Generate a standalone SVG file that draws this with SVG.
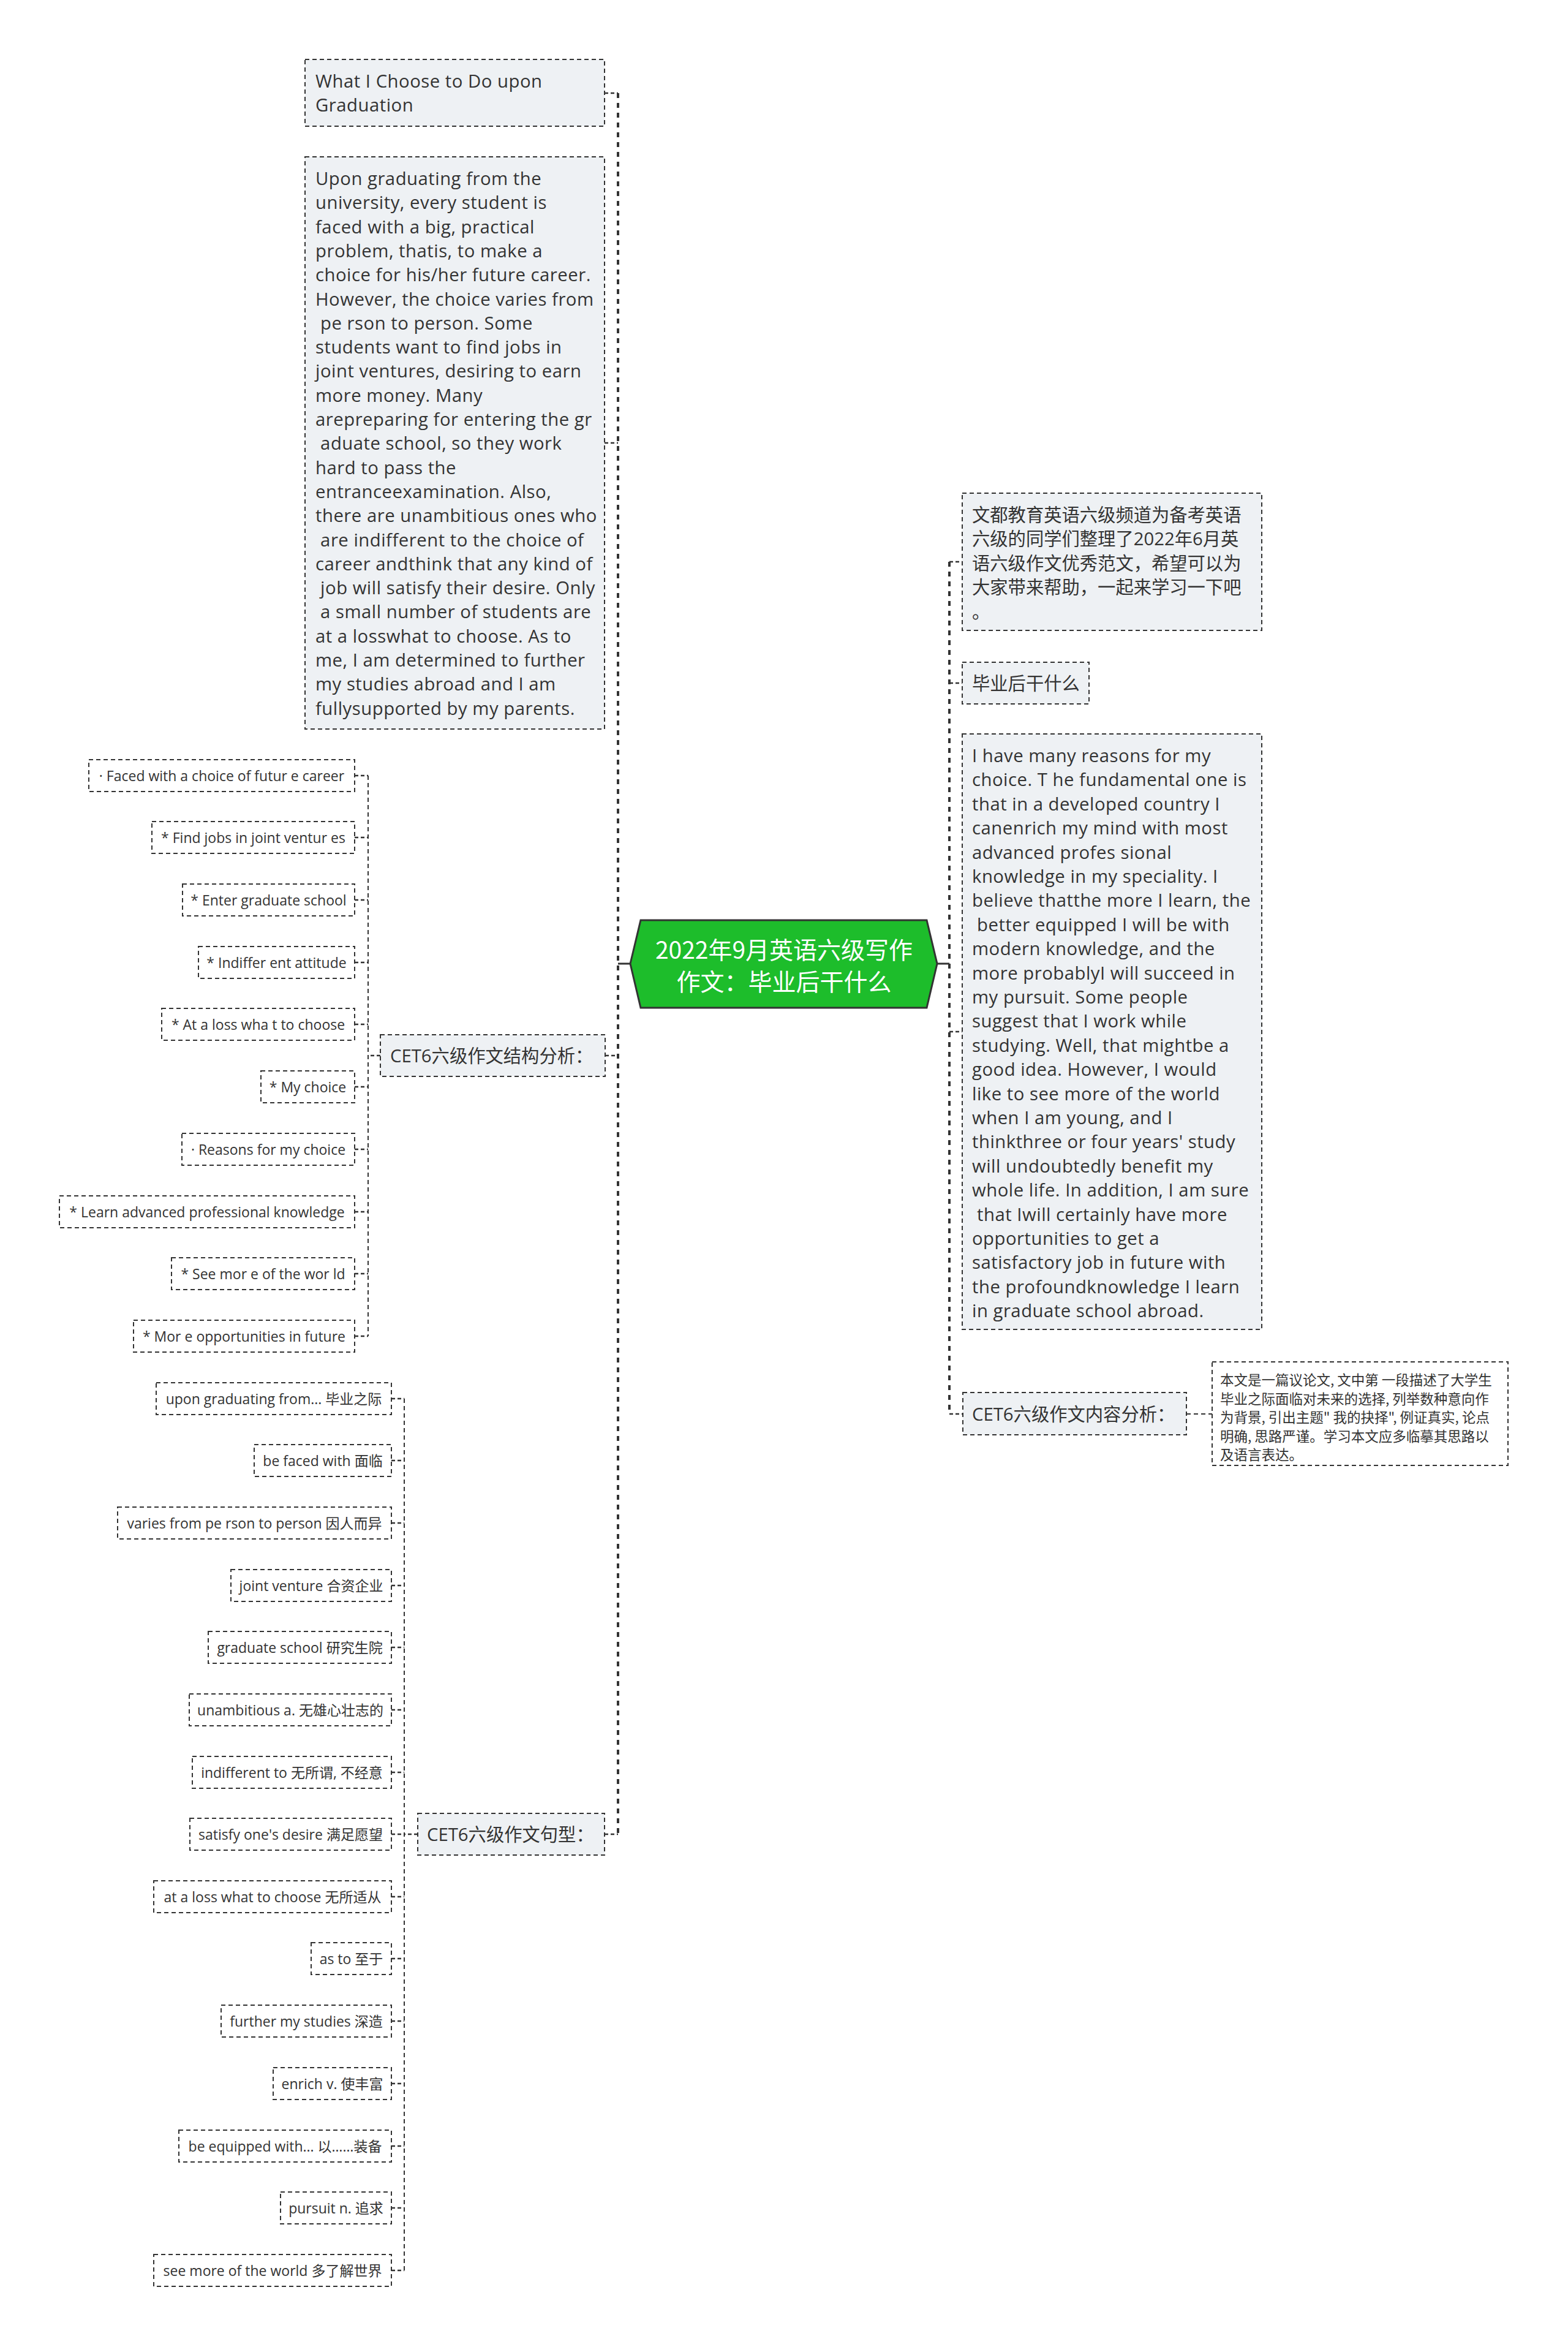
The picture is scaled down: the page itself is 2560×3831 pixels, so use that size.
<svg xmlns="http://www.w3.org/2000/svg" width="2560" height="3831" viewBox="0 0 2560 3831">
<style>
.n1{fill:#eef1f4;stroke:#333;stroke-width:2;stroke-dasharray:7 5}
.n2{fill:#fff;stroke:#333;stroke-width:2;stroke-dasharray:7 5}
.t{font-family:"Open Sans","Noto Sans CJK SC",sans-serif;fill:#333;white-space:pre;dominant-baseline:central}
.t1{font-size:29.3px}
.en{letter-spacing:0.5px}
.t2{font-size:23px}
.t3{font-size:22.5px;font-family:"Noto Sans CJK SC",sans-serif}
.m{text-anchor:middle}
.trunk{fill:none;stroke:#333;stroke-width:4;stroke-dasharray:8 8}
.sub{fill:none;stroke:#333;stroke-width:2;stroke-dasharray:7 5}
.stub{fill:none;stroke:#333;stroke-width:2.5;stroke-dasharray:6 4}
.solid{fill:none;stroke:#333;stroke-width:3}
</style>
<rect x="0" y="0" width="2560" height="3831" fill="#fff"/>

<g id="connectors">
  <line class="solid" x1="1029" y1="1573" x2="1009" y2="1573"/>
  <line class="solid" x1="1530" y1="1573" x2="1550" y2="1573"/>
  <line class="trunk" x1="1009" y1="152" x2="1009" y2="2994"/>
  <line class="trunk" x1="1550" y1="917" x2="1550" y2="2308"/>
  <line class="stub" x1="987" y1="152" x2="1009" y2="152"/>
  <line class="stub" x1="987" y1="723" x2="1009" y2="723"/>
  <line class="stub" x1="988" y1="1723" x2="1009" y2="1723"/>
  <line class="stub" x1="987" y1="2994" x2="1009" y2="2994"/>
  <line class="stub" x1="1550" y1="917" x2="1571" y2="917"/>
  <line class="stub" x1="1550" y1="1115" x2="1571" y2="1115"/>
  <line class="stub" x1="1550" y1="1684" x2="1571" y2="1684"/>
  <line class="stub" x1="1550" y1="2308" x2="1572" y2="2308"/>
  <line class="sub" x1="1937" y1="2308" x2="1979" y2="2308"/>
  <line class="sub" x1="601" y1="1266" x2="601" y2="2181"/>
  <line class="stub" x1="621" y1="1723" x2="601" y2="1723"/>
  <g class="stub">
    <line x1="579" y1="1266" x2="601" y2="1266"/>
    <line x1="579" y1="1367" x2="601" y2="1367"/>
    <line x1="579" y1="1469" x2="601" y2="1469"/>
    <line x1="579" y1="1571" x2="601" y2="1571"/>
    <line x1="579" y1="1672" x2="601" y2="1672"/>
    <line x1="579" y1="1774" x2="601" y2="1774"/>
    <line x1="579" y1="1876" x2="601" y2="1876"/>
    <line x1="579" y1="1978" x2="601" y2="1978"/>
    <line x1="579" y1="2079" x2="601" y2="2079"/>
    <line x1="579" y1="2181" x2="601" y2="2181"/>
  </g>
  <line class="sub" x1="660" y1="2283" x2="660" y2="3706"/>
  <line class="stub" x1="682" y1="2994" x2="660" y2="2994"/>
  <g class="stub">
    <line x1="639" y1="2283" x2="660" y2="2283"/>
    <line x1="639" y1="2384" x2="660" y2="2384"/>
    <line x1="639" y1="2486" x2="660" y2="2486"/>
    <line x1="639" y1="2588" x2="660" y2="2588"/>
    <line x1="639" y1="2689" x2="660" y2="2689"/>
    <line x1="639" y1="2791" x2="660" y2="2791"/>
    <line x1="639" y1="2893" x2="660" y2="2893"/>
    <line x1="639" y1="2994" x2="660" y2="2994"/>
    <line x1="639" y1="3096" x2="660" y2="3096"/>
    <line x1="639" y1="3197" x2="660" y2="3197"/>
    <line x1="639" y1="3299" x2="660" y2="3299"/>
    <line x1="639" y1="3401" x2="660" y2="3401"/>
    <line x1="639" y1="3503" x2="660" y2="3503"/>
    <line x1="639" y1="3604" x2="660" y2="3604"/>
    <line x1="639" y1="3706" x2="660" y2="3706"/>
  </g>
</g>

<g id="center">
  <polygon points="1029,1573 1046,1502 1513,1502 1530,1573 1513,1645 1046,1645" fill="#1dbd2b" stroke="#333" stroke-width="3"/>
  <text x="1280" y="1548" font-family="Noto Sans CJK SC, sans-serif" font-size="39" fill="#fff" text-anchor="middle" dominant-baseline="central">2022年9月英语六级写作</text>
  <text x="1280" y="1600" font-family="Noto Sans CJK SC, sans-serif" font-size="39" fill="#fff" text-anchor="middle" dominant-baseline="central">作文：毕业后干什么</text>
</g>

<g id="title-en">
  <rect class="n1" x="498" y="97" width="489" height="109"/>
  <text class="t t1 en"><tspan x="515" y="132">What I Choose to Do upon</tspan><tspan x="515" y="171">Graduation</tspan></text>
</g>

<g id="para-left">
  <rect class="n1" x="498" y="256" width="489" height="934"/>
  <text class="t t1 en">
    <tspan x="515" y="291">Upon graduating from the</tspan>
    <tspan x="515" y="330.3">university, every student is</tspan>
    <tspan x="515" y="369.6">faced with a big, practical</tspan>
    <tspan x="515" y="408.9">problem, thatis, to make a</tspan>
    <tspan x="515" y="448.2">choice for his/her future career.</tspan>
    <tspan x="515" y="487.5">However, the choice varies from</tspan>
    <tspan x="515" y="526.8"> pe rson to person. Some</tspan>
    <tspan x="515" y="566.1">students want to find jobs in</tspan>
    <tspan x="515" y="605.4">joint ventures, desiring to earn</tspan>
    <tspan x="515" y="644.7">more money. Many</tspan>
    <tspan x="515" y="684">arepreparing for entering the gr</tspan>
    <tspan x="515" y="723.3"> aduate school, so they work</tspan>
    <tspan x="515" y="762.6">hard to pass the</tspan>
    <tspan x="515" y="801.9">entranceexamination. Also,</tspan>
    <tspan x="515" y="841.2">there are unambitious ones who</tspan>
    <tspan x="515" y="880.5"> are indifferent to the choice of</tspan>
    <tspan x="515" y="919.8">career andthink that any kind of</tspan>
    <tspan x="515" y="959.1"> job will satisfy their desire. Only</tspan>
    <tspan x="515" y="998.4"> a small number of students are</tspan>
    <tspan x="515" y="1037.7">at a losswhat to choose. As to</tspan>
    <tspan x="515" y="1077">me, I am determined to further</tspan>
    <tspan x="515" y="1116.3">my studies abroad and I am</tspan>
    <tspan x="515" y="1155.6">fullysupported by my parents.</tspan>
  </text>
</g>

<g id="structure">
  <rect class="n1" x="621" y="1689" width="367" height="68"/>
  <text class="t t1" x="637" y="1723">CET6六级作文结构分析：</text>
</g>
<g id="s1"><rect class="n2" x="145" y="1240" width="434" height="52"/><text class="t t2 m" x="362" y="1266">· Faced with a choice of futur e career</text></g>
<g id="s2"><rect class="n2" x="248" y="1341" width="331" height="52"/><text class="t t2 m" x="413.5" y="1367">* Find jobs in joint ventur es</text></g>
<g id="s3"><rect class="n2" x="298" y="1443" width="281" height="52"/><text class="t t2 m" x="438.5" y="1469">* Enter graduate school</text></g>
<g id="s4"><rect class="n2" x="324" y="1545" width="255" height="52"/><text class="t t2 m" x="451.5" y="1571">* Indiffer ent attitude</text></g>
<g id="s5"><rect class="n2" x="264" y="1646" width="315" height="52"/><text class="t t2 m" x="421.5" y="1672">* At a loss wha t to choose</text></g>
<g id="s6"><rect class="n2" x="426" y="1748" width="153" height="52"/><text class="t t2 m" x="502.5" y="1774">* My choice</text></g>
<g id="s7"><rect class="n2" x="297" y="1850" width="282" height="52"/><text class="t t2 m" x="438" y="1876">· Reasons for my choice</text></g>
<g id="s8"><rect class="n2" x="97" y="1952" width="482" height="52"/><text class="t t2 m" x="338" y="1978">* Learn advanced professional knowledge</text></g>
<g id="s9"><rect class="n2" x="280" y="2053" width="299" height="52"/><text class="t t2 m" x="429.5" y="2079">* See mor e of the wor ld</text></g>
<g id="s10"><rect class="n2" x="218" y="2155" width="361" height="52"/><text class="t t2 m" x="398.5" y="2181">* Mor e opportunities in future</text></g>

<g id="phrases">
  <rect class="n1" x="682" y="2960" width="305" height="68"/>
  <text class="t t1" x="697" y="2994">CET6六级作文句型：</text>
</g>
<g id="p1"><rect class="n2" x="255" y="2257" width="384" height="52"/><text class="t t2 m" x="447" y="2283">upon graduating from... 毕业之际</text></g>
<g id="p2"><rect class="n2" x="415" y="2358" width="224" height="52"/><text class="t t2 m" x="527" y="2384">be faced with 面临</text></g>
<g id="p3"><rect class="n2" x="192" y="2460" width="447" height="52"/><text class="t t2 m" x="415.5" y="2486">varies from pe rson to person 因人而异</text></g>
<g id="p4"><rect class="n2" x="377" y="2562" width="262" height="52"/><text class="t t2 m" x="508" y="2588">joint venture 合资企业</text></g>
<g id="p5"><rect class="n2" x="340" y="2663" width="299" height="52"/><text class="t t2 m" x="489.5" y="2689">graduate school 研究生院</text></g>
<g id="p6"><rect class="n2" x="309" y="2765" width="330" height="52"/><text class="t t2 m" x="474" y="2791">unambitious a. 无雄心壮志的</text></g>
<g id="p7"><rect class="n2" x="314" y="2867" width="325" height="52"/><text class="t t2 m" x="476.5" y="2893">indifferent to 无所谓, 不经意</text></g>
<g id="p8"><rect class="n2" x="310" y="2968" width="329" height="52"/><text class="t t2 m" x="474.5" y="2994">satisfy one's desire 满足愿望</text></g>
<g id="p9"><rect class="n2" x="251" y="3070" width="388" height="52"/><text class="t t2 m" x="445" y="3096">at a loss what to choose 无所适从</text></g>
<g id="p10"><rect class="n2" x="508" y="3171" width="131" height="52"/><text class="t t2 m" x="573.5" y="3197">as to 至于</text></g>
<g id="p11"><rect class="n2" x="361" y="3273" width="278" height="52"/><text class="t t2 m" x="500" y="3299">further my studies 深造</text></g>
<g id="p12"><rect class="n2" x="446" y="3375" width="193" height="52"/><text class="t t2 m" x="542.5" y="3401">enrich v. 使丰富</text></g>
<g id="p13"><rect class="n2" x="292" y="3477" width="347" height="52"/><text class="t t2 m" x="465.5" y="3503">be equipped with... 以……装备</text></g>
<g id="p14"><rect class="n2" x="458" y="3578" width="181" height="52"/><text class="t t2 m" x="548.5" y="3604">pursuit n. 追求</text></g>
<g id="p15"><rect class="n2" x="251" y="3680" width="388" height="52"/><text class="t t2 m" x="445" y="3706">see more of the world 多了解世界</text></g>

<g id="intro">
  <rect class="n1" x="1571" y="805" width="489" height="224"/>
  <text class="t t1">
    <tspan x="1587" y="840">文都教育英语六级频道为备考英语</tspan>
    <tspan x="1587" y="879.4">六级的同学们整理了2022年6月英</tspan>
    <tspan x="1587" y="918.8">语六级作文优秀范文，希望可以为</tspan>
    <tspan x="1587" y="958.2">大家带来帮助，一起来学习一下吧</tspan>
    <tspan x="1587" y="997.6">。</tspan>
  </text>
</g>

<g id="subtitle">
  <rect class="n1" x="1571" y="1081" width="207" height="68"/>
  <text class="t t1" x="1587" y="1115">毕业后干什么</text>
</g>

<g id="para-right">
  <rect class="n1" x="1571" y="1198" width="489" height="972"/>
  <text class="t t1 en">
    <tspan x="1587" y="1233">I have many reasons for my</tspan>
    <tspan x="1587" y="1272.4">choice. T he fundamental one is</tspan>
    <tspan x="1587" y="1311.8">that in a developed country I</tspan>
    <tspan x="1587" y="1351.2">canenrich my mind with most</tspan>
    <tspan x="1587" y="1390.6">advanced profes sional</tspan>
    <tspan x="1587" y="1430">knowledge in my speciality. I</tspan>
    <tspan x="1587" y="1469.4">believe thatthe more I learn, the</tspan>
    <tspan x="1587" y="1508.8"> better equipped I will be with</tspan>
    <tspan x="1587" y="1548.2">modern knowledge, and the</tspan>
    <tspan x="1587" y="1587.6">more probablyI will succeed in</tspan>
    <tspan x="1587" y="1627">my pursuit. Some people</tspan>
    <tspan x="1587" y="1666.4">suggest that I work while</tspan>
    <tspan x="1587" y="1705.8">studying. Well, that mightbe a</tspan>
    <tspan x="1587" y="1745.2">good idea. However, I would</tspan>
    <tspan x="1587" y="1784.6">like to see more of the world</tspan>
    <tspan x="1587" y="1824">when I am young, and I</tspan>
    <tspan x="1587" y="1863.4">thinkthree or four years' study</tspan>
    <tspan x="1587" y="1902.8">will undoubtedly benefit my</tspan>
    <tspan x="1587" y="1942.2">whole life. In addition, I am sure</tspan>
    <tspan x="1587" y="1981.6"> that Iwill certainly have more</tspan>
    <tspan x="1587" y="2021">opportunities to get a</tspan>
    <tspan x="1587" y="2060.4">satisfactory job in future with</tspan>
    <tspan x="1587" y="2099.8">the profoundknowledge I learn</tspan>
    <tspan x="1587" y="2139.2">in graduate school abroad.</tspan>
  </text>
</g>

<g id="content">
  <rect class="n1" x="1572" y="2273" width="365" height="69"/>
  <text class="t t1" x="1587" y="2308">CET6六级作文内容分析：</text>
</g>

<g id="content-note">
  <rect class="n2" x="1979" y="2223" width="483" height="169"/>
  <text class="t t3">
    <tspan x="1992" y="2251">本文是一篇议论文, 文中第 一段描述了大学生</tspan>
    <tspan x="1992" y="2281.5">毕业之际面临对未来的选择, 列举数种意向作</tspan>
    <tspan x="1992" y="2312">为背景, 引出主题" 我的抉择", 例证真实, 论点</tspan>
    <tspan x="1992" y="2342.5">明确, 思路严谨。学习本文应多临摹其思路以</tspan>
    <tspan x="1992" y="2373">及语言表达。</tspan>
  </text>
</g>
</svg>
